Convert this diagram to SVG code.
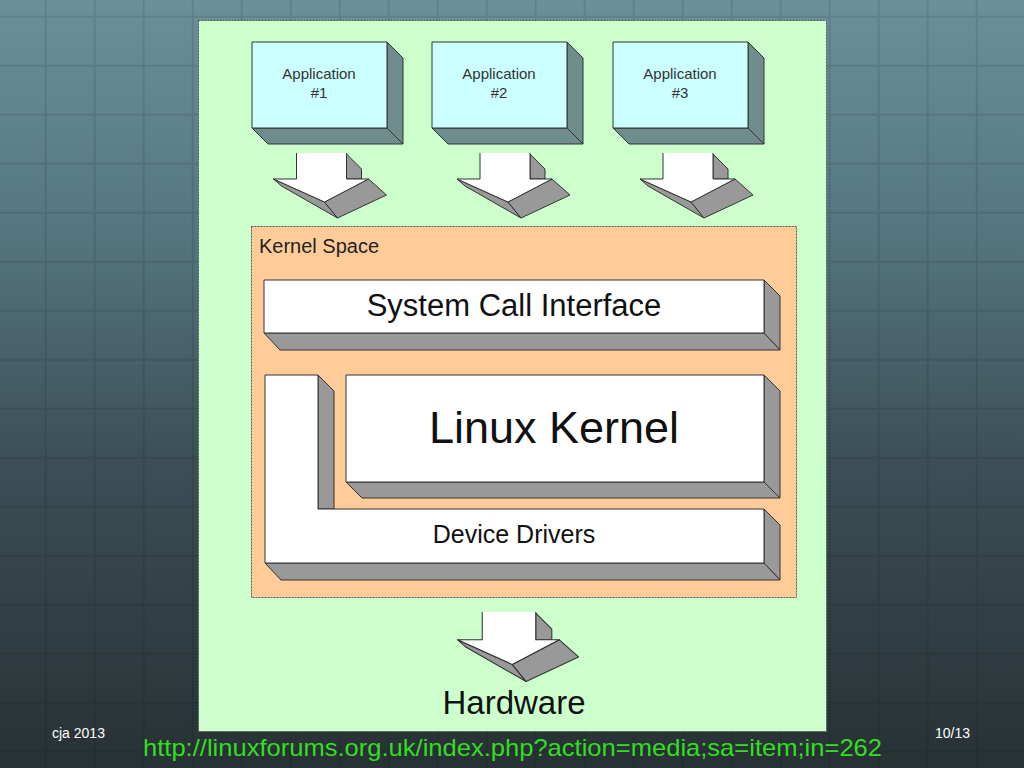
<svg xmlns="http://www.w3.org/2000/svg" xmlns:xlink="http://www.w3.org/1999/xlink" width="1024" height="768" viewBox="0 0 1024 768">
<style>
.line{stroke:#333;stroke-width:1;stroke-linejoin:round}
.white{fill:#ffffff}
.gray{fill:#999999}
.appf{fill:#ccffff}
.apps{fill:#6f8d8d}
.lbl{font-family:"Liberation Sans",Arial,sans-serif;fill:#111;text-anchor:middle}
.app{font-family:"Liberation Sans",Arial,sans-serif;fill:#333;text-anchor:middle;font-size:15px}
.foot{font-family:"Liberation Sans",Arial,sans-serif;fill:#ffffff;font-size:14px}
</style>
<defs>
<linearGradient id="bg" x1="0" y1="0" x2="0" y2="1">
<stop offset="0" stop-color="#6b909a"/>
<stop offset="0.3" stop-color="#557680"/>
<stop offset="0.6" stop-color="#3c4f57"/>
<stop offset="1" stop-color="#283134"/>
</linearGradient>
<pattern id="grid" width="49" height="49" patternUnits="userSpaceOnUse" patternTransform="translate(44.7,15.7)">
<path d="M0,1 H49 M1,0 V49" stroke="#000" stroke-opacity="0.1" stroke-width="2" fill="none"/>
</pattern>
<g id="arrow3d" class="line">
<path class="gray" d="M25,1 L40,16 V26 H25 Z"/>
<path class="gray" d="M-48,26 L3,49 L16,65 L-40,33 Z"/>
<path class="gray" d="M3,49 L47,26 L65,42 L16,65 Z"/>
<path class="white" stroke="none" d="M-25,0 H25 V26 H47 L3,49 L-48,26 H-25 Z"/>
<path fill="none" d="M25,0 V26 H47 L3,49 L-48,26 H-25 V0"/>
</g>
</defs>

<rect width="1024" height="768" fill="url(#bg)"/>
<rect width="1024" height="768" fill="url(#grid)"/>

<g id="panel">
<rect x="198.5" y="20.5" width="628" height="711" fill="#ccffcc" stroke="#555" stroke-width="1" stroke-dasharray="2,1"/>
</g>

<g id="app1" class="line">
<path class="apps" d="M387,42 L403,58 V144 L387,128 Z"/>
<path class="apps" d="M252,128 H387 L403,144 H268 Z"/>
<rect class="appf" x="252" y="42" width="135" height="86"/>
<text class="app" x="319" y="79" stroke="none">Application</text>
<text class="app" x="319" y="98" stroke="none">#1</text>
</g>
<g id="app2" class="line">
<path class="apps" d="M567,42 L583,58 V144 L567,128 Z"/>
<path class="apps" d="M432,128 H567 L583,144 H448 Z"/>
<rect class="appf" x="432" y="42" width="135" height="86"/>
<text class="app" x="499" y="79" stroke="none">Application</text>
<text class="app" x="499" y="98" stroke="none">#2</text>
</g>
<g id="app3" class="line">
<path class="apps" d="M748,42 L764,58 V144 L748,128 Z"/>
<path class="apps" d="M613,128 H748 L764,144 H629 Z"/>
<rect class="appf" x="613" y="42" width="135" height="86"/>
<text class="app" x="680" y="79" stroke="none">Application</text>
<text class="app" x="680" y="98" stroke="none">#3</text>
</g>

<g id="kernel-space">
<rect x="251.5" y="226.5" width="545" height="371" fill="#ffcc99" stroke="#555" stroke-width="1" stroke-dasharray="2,1"/>
<text x="259" y="253" font-family="Liberation Sans,Arial,sans-serif" font-size="20" fill="#222">Kernel Space</text>
</g>

<g id="system-call-interface" class="line">
<path class="gray" d="M764,280 L780,296 V350 L764,333 Z"/>
<path class="gray" d="M264,333 H764 L780,350 H280 Z"/>
<rect class="white" x="264" y="280" width="500" height="53"/>
<text class="lbl" x="514" y="316" font-size="31" stroke="none">System Call Interface</text>
</g>

<g id="device-drivers" class="line">
<path class="gray" d="M318,375 L334,391 V509 H318 Z"/>
<path class="gray" d="M764,509 L780,525 V580 L764,563 Z"/>
<path class="gray" d="M265,563 H764 L780,580 H281 Z"/>
<path class="white" d="M265,375 H318 V509 H764 V563 H265 Z"/>
<text class="lbl" x="514" y="543" font-size="25" stroke="none">Device Drivers</text>
</g>

<g id="linux-kernel" class="line">
<path class="gray" d="M764,375 L780,391 V498 L764,482 Z"/>
<path class="gray" d="M346,482 H764 L780,498 H362 Z"/>
<rect class="white" x="346" y="375" width="418" height="107"/>
<text class="lbl" x="554" y="443" font-size="45" stroke="none">Linux Kernel</text>
</g>

<g id="connectors">
<use xlink:href="#arrow3d" transform="translate(321.5,153)"/>
<use xlink:href="#arrow3d" transform="translate(505,153)"/>
<use xlink:href="#arrow3d" transform="translate(688,153)"/>
<use xlink:href="#arrow3d" transform="translate(509,612) scale(1.07)"/>
</g>

<g id="hardware">
<text class="lbl" x="514" y="714" font-size="33">Hardware</text>
</g>

<g id="footer">
<text class="foot" x="52" y="738">cja 2013</text>
<text class="foot" x="935" y="738">10/13</text>
<text x="143" y="756" font-family="Liberation Sans,Arial,sans-serif" font-size="24" fill="#33dd22" textLength="739" lengthAdjust="spacingAndGlyphs">http://linuxforums.org.uk/index.php?action=media;sa=item;in=262</text>
</g>
</svg>
